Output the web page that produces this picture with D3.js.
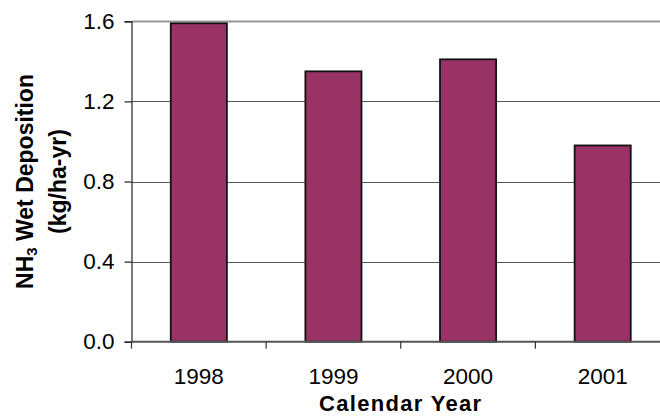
<!DOCTYPE html>
<meta charset="utf-8">
<style>
  body { margin: 0; background: #fff; }
  svg { display: block; font-family: "Liberation Sans", Arial, sans-serif; }
</style>
<body>
<svg width="660" height="417"></svg>
<script src="https://d3js.org/d3.v7.min.js"></script>
<script>

// chart data
var years = ['1998', '1999', '2000', '2001']
var deposition = [1.59, 1.35, 1.41, 0.98]
var yTicks = [0, 0.4, 0.8, 1.2, 1.6]

var svg = d3.select('svg')

// plot area (runs past the right edge, like the original cropped chart)
var plotLeft = 131.5, plotRight = 670, plotTop = 21.3, plotBottom = 341.7

var x = d3.scaleBand().domain(years).range([plotLeft, plotRight])
var y = d3.scaleLinear().domain([0, 1.6]).range([plotBottom, plotTop])

// gridlines
svg.append('g').selectAll('line')
  .data(yTicks.filter(function (d) { return d > 0 }))
  .enter().append('line')
  .attr('x1', plotLeft).attr('x2', plotRight)
  .attr('y1', function (d) { return Math.round(y(d)) + 0.5 })
  .attr('y2', function (d) { return Math.round(y(d)) + 0.5 })
  .attr('stroke', function (d) { return d === 1.6 ? '#999' : '#555' })
  .attr('stroke-width', function (d) { return d === 1.6 ? 2 : 1.2 })

// bars, excel style gap width 140%
var barW = x.bandwidth() / 2.4
svg.append('g').selectAll('rect')
  .data(years)
  .enter().append('rect')
  .attr('x', function (d) { return x(d) + (x.bandwidth() - barW) / 2 })
  .attr('width', barW)
  .attr('y', function (d, i) { return y(deposition[i]) })
  .attr('height', function (d, i) { return plotBottom - y(deposition[i]) })
  .attr('fill', '#993366')
  .attr('stroke', '#111')
  .attr('stroke-width', 1.8)

// y axis
var yAxis = d3.axisLeft(y).tickValues(yTicks).tickSize(7).tickPadding(10)
  .tickFormat(d3.format('.1f'))
var gy = svg.append('g').attr('transform', 'translate(' + plotLeft + ',0)').call(yAxis)
gy.select('.domain').attr('stroke', '#222').attr('stroke-width', 1.2)
gy.selectAll('.tick line').attr('stroke', '#222').attr('stroke-width', 1.2)
gy.selectAll('.tick text').attr('font-size', '22.5px').attr('fill', '#000')
  .attr('font-family', '"Liberation Sans", Arial, sans-serif')

// x axis with ticks between the categories
var gx = svg.append('g').attr('transform', 'translate(0,' + plotBottom + ')')
gx.append('line')
  .attr('x1', plotLeft).attr('x2', plotRight)
  .attr('stroke', '#555').attr('stroke-width', 2)
gx.selectAll('.sep')
  .data(years)
  .enter().append('line')
  .attr('class', 'sep')
  .attr('x1', function (d) { return x(d) }).attr('x2', function (d) { return x(d) })
  .attr('y1', 0).attr('y2', 7)
  .attr('stroke', '#333').attr('stroke-width', 1.2)
gx.selectAll('text')
  .data(years)
  .enter().append('text')
  .attr('x', function (d) { return x(d) + x.bandwidth() / 2 })
  .attr('y', 42.6)
  .attr('text-anchor', 'middle')
  .attr('font-size', '22.5px')
  .text(function (d) { return d })

// axis titles
svg.append('text')
  .attr('x', (plotLeft + plotRight) / 2)
  .attr('y', 411)
  .attr('text-anchor', 'middle')
  .attr('font-size', '22px')
  .attr('font-weight', 'bold')
  .attr('letter-spacing', '1.3px')
  .text('Calendar Year')

var yTitle = svg.append('text')
  .attr('transform', 'translate(33,' + (plotTop + plotBottom) / 2 + ') rotate(-90)')
  .attr('text-anchor', 'middle')
  .attr('font-size', '23px')
  .attr('font-weight', 'bold')
yTitle.append('tspan').text('NH')
yTitle.append('tspan').attr('font-size', '15px').attr('dy', 4).text('3')
yTitle.append('tspan').attr('dy', -4).text(' Wet Deposition')

svg.append('text')
  .attr('transform', 'translate(66,' + (plotTop + plotBottom) / 2 + ') rotate(-90)')
  .attr('text-anchor', 'middle')
  .attr('font-size', '23px')
  .attr('font-weight', 'bold')
  .text('(kg/ha-yr)')

</script>
